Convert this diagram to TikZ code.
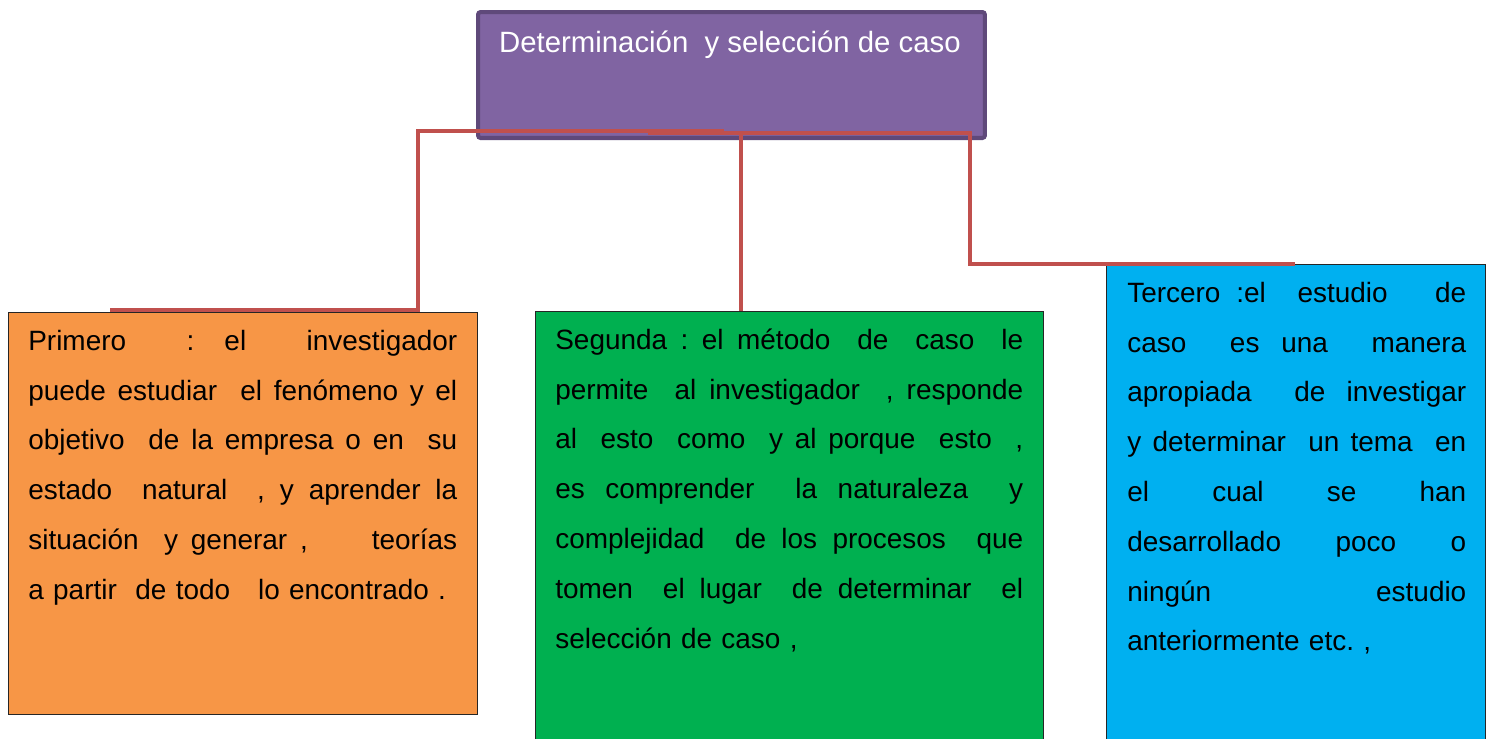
\documentclass[tikz,border=0pt]{standalone}
\usepackage{fontspec}
\setmainfont{Liberation Sans}
\usetikzlibrary{calc}
\definecolor{purpF}{HTML}{8064A2}
\definecolor{purpD}{HTML}{5F497A}
\definecolor{redL}{HTML}{C0504D}
\definecolor{orF}{HTML}{F79646}
\definecolor{grF}{HTML}{00B050}
\definecolor{blF}{HTML}{00B0F0}
\frenchspacing
\newlength{\tw}
\newcommand{\jl}[1]{\leavevmode\hbox to \tw{\spaceskip=0.278em plus 1fil\relax #1}}
\begin{document}
\begin{tikzpicture}[x=0.02cm,y=-0.02cm,
  box/.style={draw=black!85, line width=0.6pt, anchor=north west, inner sep=0pt},
  txt/.style={anchor=north west, inner sep=0pt, align=left, text width=#1,
    font=\fontsize{15.9}{28.35}\selectfont\frenchspacing\setlength{\tw}{#1}},
  conn/.style={draw=redL, line width=2.3pt}]
\clip (0,0) rectangle (1495,738);
\fill[white] (0,0) rectangle (1495,738);
% boxes
\node[box, fill=orF, minimum width=9.38cm, minimum height=8.04cm] (O) at (8,312) {};
\node[box, fill=grF, minimum width=10.16cm, minimum height=9cm] (G) at (535,311) {};
\node[box, fill=blF, minimum width=7.58cm, minimum height=10cm] (B) at (1106,264) {};
\node[draw=purpD, line width=2.3pt, fill=purpF, rounded corners=1.5pt, anchor=north west,
      minimum width=10.14cm, minimum height=2.52cm, inner sep=0pt] (T) at (476,10) {};
\node[text=white, font=\fontsize{16.7}{20}\selectfont, anchor=base] (Tt) at (730,52)
  {Determinación\ \ y selección de caso};
% connectors
\coordinate (L1) at (724,131);
\coordinate (L2) at (418,131);
\coordinate (L3) at (418,310);
\coordinate (L4) at (110,310);
\draw[conn] (L1) -- (L2) -- (L3) -- (L4);
\coordinate (M1) at (648,133);
\coordinate (M2) at (970,133);
\coordinate (M3) at (970,264);
\coordinate (M4) at (1295,264);
\draw[conn] (M1) -- (M2) -- (M3) -- (M4);
\coordinate (C1) at (741,133);
\draw[conn] (C1) -- (C1 |- G.north);
% texts
\node[txt=8.58cm] (Ot) at (28,315) {%
\strut\jl{Primero\ \ :\ el\ \ investigador}\\
\jl{puede estudiar\ \ el fenómeno y el}\\
\jl{objetivo\ \ de la empresa o en\ \ su}\\
\jl{estado\ \ natural\ \ , y aprender la}\\
\jl{situación\ \ y generar ,\ \ \ \ \ teorías}\\
a partir\ \ de todo\ \ \ lo encontrado .};
\node[txt=9.36cm] (Gt) at (555,314) {%
\strut\jl{Segunda : el método\ \ de\ \ caso\ \ le}\\
\jl{permite\ \ al investigador\ \ , responde}\\
\jl{al\ \ esto\ \ como\ \ y al porque\ \ esto\ \ ,}\\
\jl{es comprender\ \ la naturaleza\ \ y}\\
\jl{complejidad\ \ de los procesos\ \ que}\\
\jl{tomen\ \ el lugar\ \ de determinar\ \ el}\\
selección de caso ,};
\node[txt=6.78cm] (Bt) at (1127,267) {%
\strut\jl{Tercero :el\ \ estudio\ \ \ de}\\
\jl{caso\ \ es una\ \ manera}\\
\jl{apropiada\ \ de investigar}\\
\jl{y determinar\ \ un tema\ \ en}\\
\jl{el\ \ \ cual\ \ \ se\ \ \ han}\\
\jl{desarrollado\ \ \ poco\ \ \ o}\\
\jl{ningún\ \ \ estudio}\\
anteriormente etc. ,};
\end{tikzpicture}
\end{document}
